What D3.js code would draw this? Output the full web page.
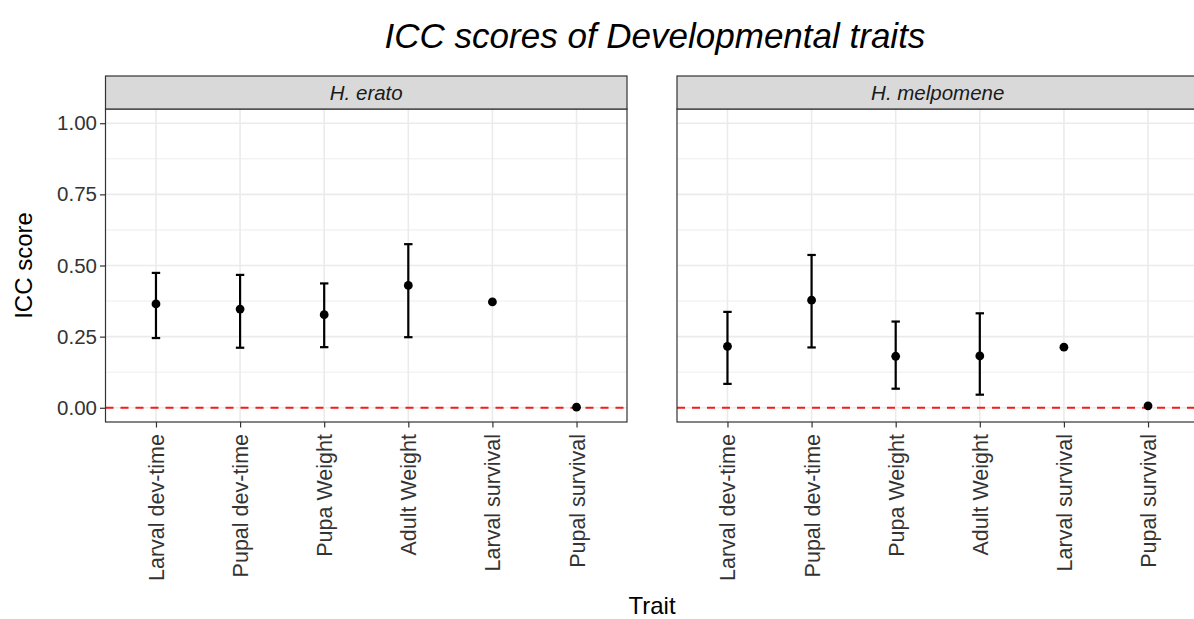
<!DOCTYPE html>
<html>
<head>
<meta charset="utf-8">
<script src="https://cdn.jsdelivr.net/npm/d3@7"></script>
<style>
  html, body { margin: 0; padding: 0; background: #fff; }
  svg { display: block; font-family: "Liberation Sans", Arial, sans-serif; }
</style>
</head>
<body>
<svg id="chart" width="1194" height="619"></svg>
<script>
// ICC estimates with confidence intervals, per species
const traits = ["Larval dev-time", "Pupal dev-time", "Pupa Weight", "Adult Weight", "Larval survival", "Pupal survival"];
const species = ["H. erato", "H. melpomene"];

const eratoICC   = [0.365, 0.347, 0.327, 0.430, 0.372, 0.002];
const eratoLower = [0.245, 0.211, 0.213, 0.248, null, null];
const eratoUpper = [0.474, 0.467, 0.437, 0.575, null, null];

const melpICC    = [0.216, 0.378, 0.181, 0.182, 0.213, 0.007];
const melpLower  = [0.084, 0.212, 0.067, 0.046, null, null];
const melpUpper  = [0.337, 0.537, 0.303, 0.332, null, null];

const yTicks = [0, 0.25, 0.5, 0.75, 1];
const yMinor = [0.125, 0.375, 0.625, 0.875];
const yTickLabels = ["0.00", "0.25", "0.50", "0.75", "1.00"];

const panels = [
  { name: species[0], icc: eratoICC, lo: eratoLower, hi: eratoUpper, x0: 105.5 },
  { name: species[1], icc: melpICC,  lo: melpLower,  hi: melpUpper,  x0: 677 }
];

const svg = d3.select("#chart");
const panelW = 521.5;
const panelTop = 109, panelBottom = 422;
const stripTop = 76;

const y = d3.scaleLinear().domain([-0.05, 1.05]).range([panelBottom, panelTop]);

// Title
svg.append("text")
  .attr("x", 655).attr("y", 48)
  .attr("text-anchor", "middle")
  .attr("font-size", 35).attr("font-style", "italic")
  .attr("fill", "#000")
  .text("ICC scores of Developmental traits");

panels.forEach((p, pi) => {
  const x = d3.scalePoint().domain(traits).range([p.x0, p.x0 + panelW]).padding(0.6);
  const step = x.step();
  const g = svg.append("g");

  // panel background
  g.append("rect").attr("x", p.x0).attr("y", panelTop)
    .attr("width", panelW).attr("height", panelBottom - panelTop)
    .attr("fill", "#fff");

  // minor grid
  g.selectAll(".ymin").data(yMinor).join("line")
    .attr("x1", p.x0).attr("x2", p.x0 + panelW)
    .attr("y1", d => y(d)).attr("y2", d => y(d))
    .attr("stroke", "#EBEBEB").attr("stroke-width", 0.9);

  // major grid
  g.selectAll(".ymaj").data(yTicks).join("line")
    .attr("x1", p.x0).attr("x2", p.x0 + panelW)
    .attr("y1", d => y(d)).attr("y2", d => y(d))
    .attr("stroke", "#EBEBEB").attr("stroke-width", 1.6);
  g.selectAll(".xmaj").data(traits).join("line")
    .attr("x1", d => x(d)).attr("x2", d => x(d))
    .attr("y1", panelTop).attr("y2", panelBottom)
    .attr("stroke", "#EBEBEB").attr("stroke-width", 1.6);

  // reference line at zero
  g.append("line")
    .attr("x1", p.x0).attr("x2", p.x0 + panelW)
    .attr("y1", y(0)).attr("y2", y(0))
    .attr("stroke", "#F21D1D").attr("stroke-width", 2)
    .attr("stroke-dasharray", "8,7");

  // error bars
  const bars = traits.map((t, i) => ({ t, lo: p.lo[i], hi: p.hi[i] })).filter(d => d.lo != null);
  const eb = g.selectAll(".eb").data(bars).join("g").attr("stroke", "#000").attr("stroke-width", 2.2);
  eb.append("line")
    .attr("x1", d => x(d.t)).attr("x2", d => x(d.t))
    .attr("y1", d => y(d.lo)).attr("y2", d => y(d.hi));
  eb.append("line")
    .attr("x1", d => x(d.t) - step * 0.05).attr("x2", d => x(d.t) + step * 0.05)
    .attr("y1", d => y(d.lo)).attr("y2", d => y(d.lo));
  eb.append("line")
    .attr("x1", d => x(d.t) - step * 0.05).attr("x2", d => x(d.t) + step * 0.05)
    .attr("y1", d => y(d.hi)).attr("y2", d => y(d.hi));

  // points
  g.selectAll(".pt").data(traits.map((t, i) => ({ t, v: p.icc[i] }))).join("circle")
    .attr("cx", d => x(d.t)).attr("cy", d => y(d.v)).attr("r", 4.4)
    .attr("fill", "#000");

  // panel border
  g.append("rect").attr("x", p.x0).attr("y", panelTop)
    .attr("width", panelW).attr("height", panelBottom - panelTop)
    .attr("fill", "none").attr("stroke", "#333").attr("stroke-width", 1.2);

  // strip
  g.append("rect").attr("x", p.x0).attr("y", stripTop)
    .attr("width", panelW).attr("height", panelTop - stripTop)
    .attr("fill", "#D9D9D9").attr("stroke", "#333").attr("stroke-width", 1.2);
  g.append("text")
    .attr("x", p.x0 + panelW / 2).attr("y", (stripTop + panelTop) / 2)
    .attr("dy", "0.36em")
    .attr("text-anchor", "middle").attr("font-size", 20.5).attr("font-style", "italic")
    .attr("fill", "#1A1A1A")
    .text(p.name);

  // x axis
  const xAxis = d3.axisBottom(x).tickSize(5.5).tickPadding(0);
  const ax = g.append("g").attr("transform", `translate(0,${panelBottom})`).call(xAxis);
  ax.select(".domain").remove();
  ax.selectAll(".tick line").attr("stroke", "#333").attr("stroke-width", 1.2);
  ax.selectAll(".tick text")
    .attr("font-size", 21.5).attr("fill", "#333")
    .attr("text-anchor", "end")
    .attr("transform", "translate(0,12) rotate(-90)")
    .attr("x", 0).attr("y", 0).attr("dy", "0.35em");

  // y axis on the first panel only
  if (pi === 0) {
    const yAxis = d3.axisLeft(y).tickValues(yTicks)
      .tickFormat((d, i) => yTickLabels[i]).tickSize(5.5).tickPadding(3);
    const ay = g.append("g").attr("transform", `translate(${p.x0},0)`).call(yAxis);
    ay.select(".domain").remove();
    ay.selectAll(".tick line").attr("stroke", "#333").attr("stroke-width", 1.2);
    ay.selectAll(".tick text").attr("font-size", 20.5).attr("fill", "#333");
  }
});

// Axis titles
svg.append("text")
  .attr("transform", `translate(32,${(panelTop + panelBottom) / 2}) rotate(-90)`)
  .attr("text-anchor", "middle").attr("font-size", 24).attr("fill", "#000")
  .text("ICC score");

svg.append("text")
  .attr("x", 652).attr("y", 614)
  .attr("text-anchor", "middle").attr("font-size", 24).attr("fill", "#000")
  .text("Trait");
</script>
</body>
</html>
